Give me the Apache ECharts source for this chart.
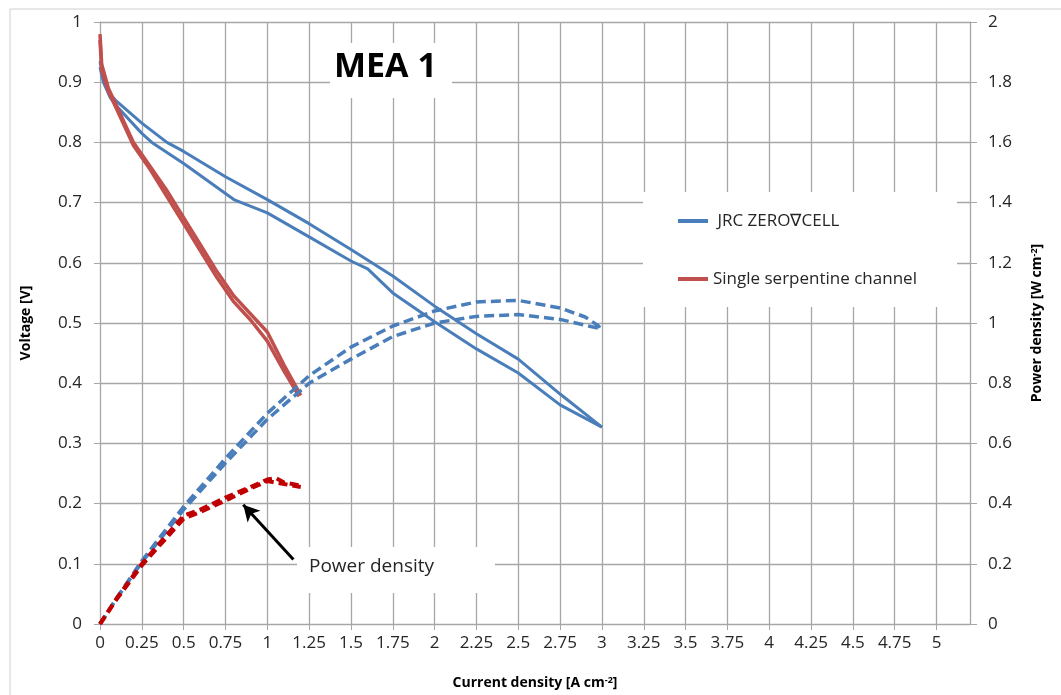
<!DOCTYPE html>
<html>
<head>
<meta charset="utf-8">
<script src="https://cdn.jsdelivr.net/npm/echarts@6/dist/echarts.min.js"></script>
<style>
  html, body { margin: 0; padding: 0; background: #fff; }
  #chart { width: 1061px; height: 695px; }
</style>
</head>
<body>
<div id="chart"></div>
<script>
// axis ranges: [min, max, step]
const xTicks = [0, 5.2, 0.25];
const vTicks = [0, 1, 0.1];
const pTicks = [0, 2, 0.2];

// JRC ZERO∇CELL polarisation (two scans)
const blueX1 = [0, 0.02, 0.06, 0.1, 0.25, 0.4, 0.5, 0.75, 1.0, 1.25, 1.5, 1.75, 2.0, 2.25, 2.5, 2.75, 3.0];
const blueV1 = [0.935, 0.905, 0.88, 0.868, 0.832, 0.80, 0.785, 0.743, 0.705, 0.665, 0.622, 0.578, 0.528, 0.482, 0.44, 0.382, 0.327];
const blueX2 = [0, 0.02, 0.06, 0.1, 0.25, 0.31, 0.5, 0.75, 0.8, 1.0, 1.25, 1.5, 1.6, 1.75, 2.0, 2.25, 2.5, 2.75, 3.0];
const blueV2 = [0.925, 0.9, 0.875, 0.86, 0.815, 0.80, 0.765, 0.715, 0.705, 0.683, 0.643, 0.603, 0.59, 0.55, 0.502, 0.457, 0.417, 0.364, 0.327];

// JRC ZERO∇CELL power density
const bluePX1 = [0, 0.1, 0.25, 0.5, 0.75, 1.0, 1.25, 1.5, 1.75, 2.0, 2.25, 2.5, 2.75, 2.9, 2.98, 3.0];
const blueP1 = [0, 0.087, 0.21, 0.39, 0.55, 0.70, 0.825, 0.92, 0.99, 1.04, 1.07, 1.075, 1.05, 1.02, 0.99, 0.975];
const bluePX2 = [0, 0.1, 0.25, 0.5, 0.75, 1.0, 1.25, 1.5, 1.75, 2.0, 2.25, 2.5, 2.75, 2.92, 3.0];
const blueP2 = [0, 0.085, 0.205, 0.38, 0.535, 0.68, 0.80, 0.88, 0.955, 1.0, 1.022, 1.028, 1.012, 0.99, 0.98];

// Single serpentine channel polarisation (two scans)
const redX1 = [0, 0.01, 0.05, 0.1, 0.2, 0.3, 0.4, 0.5, 0.6, 0.7, 0.8, 0.9, 1.0, 1.1, 1.2];
const redV1 = [0.98, 0.93, 0.89, 0.86, 0.80, 0.76, 0.72, 0.675, 0.63, 0.585, 0.545, 0.515, 0.485, 0.43, 0.38];
const redX2 = [0, 0.01, 0.05, 0.1, 0.2, 0.3, 0.4, 0.5, 0.6, 0.7, 0.8, 0.9, 1.0, 1.1, 1.19];
const redV2 = [0.97, 0.92, 0.885, 0.855, 0.795, 0.755, 0.71, 0.665, 0.62, 0.575, 0.535, 0.505, 0.47, 0.42, 0.378];

// Single serpentine channel power density
const redPX1 = [0, 0.1, 0.25, 0.5, 0.6, 0.75, 0.9, 1.0, 1.05, 1.1, 1.2];
const redP1 = [0, 0.085, 0.2, 0.36, 0.38, 0.42, 0.455, 0.48, 0.485, 0.47, 0.46];
const redPX2 = [0, 0.1, 0.25, 0.5, 0.6, 0.75, 0.9, 1.0, 1.1, 1.2];
const redP2 = [0, 0.083, 0.195, 0.35, 0.372, 0.41, 0.45, 0.475, 0.465, 0.455];

// annotation arrow (current density, voltage)
const arrowFrom = [1.156, 0.107];
const arrowTo = [0.856, 0.198];

const blueName = 'JRC ZERO∇CELL';
const redName = 'Single serpentine channel';

const zip = (xs, ys) => xs.map((x, i) => [x, ys[i]]);

const FONT = 'Open Sans';
const gridGray = '#a6a6a6';

const chart = echarts.init(document.getElementById('chart'));

const lineBase = {
    type: 'line',
    showSymbol: false,
    smooth: false,
    silent: true
};

const option = {
    animation: false,
    backgroundColor: '#fff',
    grid: {left: 100, right: 91, top: 22, bottom: 67},
    legend: {
        data: [blueName, redName],
        orient: 'vertical',
        left: 678,
        top: 210,
        padding: 0,
        itemGap: 36,
        itemWidth: 30,
        itemHeight: 4,
        icon: 'rect',
        z: 6,
        formatter: name => name === blueName ? ' ' + name : name,
        textStyle: {fontFamily: FONT, fontSize: 17, color: '#262626', lineHeight: 22}
    },
    xAxis: {
        type: 'value',
        min: xTicks[0], max: xTicks[1], interval: xTicks[2],
        name: 'Current density [A cm{sup|-2}]',
        nameLocation: 'middle',
        nameGap: 52,
        nameTextStyle: {
            fontFamily: FONT, fontSize: 14, fontWeight: 'bold', color: '#000',
            rich: {sup: {fontFamily: FONT, fontSize: 9, fontWeight: 'bold', verticalAlign: 'top', color: '#000'}}
        },
        axisLine: {lineStyle: {color: gridGray}},
        axisTick: {show: true, length: 6, lineStyle: {color: gridGray}},
        axisLabel: {fontFamily: FONT, fontSize: 17, color: '#262626', margin: 11, showMaxLabel: false},
        splitLine: {show: true, lineStyle: {color: gridGray, width: 1.3}}
    },
    yAxis: [{
        type: 'value',
        min: vTicks[0], max: vTicks[1], interval: vTicks[2],
        name: 'Voltage [V]',
        nameLocation: 'middle',
        nameGap: 67,
        nameTextStyle: {fontFamily: FONT, fontSize: 14, fontWeight: 'bold', color: '#000'},
        axisLine: {show: true, lineStyle: {color: gridGray}},
        axisTick: {show: true, length: 6, lineStyle: {color: gridGray}},
        axisLabel: {fontFamily: FONT, fontSize: 17, color: '#262626', margin: 18},
        splitLine: {show: true, lineStyle: {color: gridGray, width: 1.3}}
    }, {
        type: 'value',
        position: 'right',
        min: pTicks[0], max: pTicks[1], interval: pTicks[2],
        name: 'Power density [W cm{sup|-2}]',
        nameLocation: 'middle',
        nameGap: 60,
        nameRotate: 90,
        nameTextStyle: {
            fontFamily: FONT, fontSize: 14, fontWeight: 'bold', color: '#000',
            rich: {sup: {fontFamily: FONT, fontSize: 9, fontWeight: 'bold', verticalAlign: 'top', color: '#000'}}
        },
        axisLine: {show: true, lineStyle: {color: gridGray}},
        axisTick: {show: true, length: 7, lineStyle: {color: gridGray}},
        axisLabel: {fontFamily: FONT, fontSize: 17, color: '#262626', margin: 18},
        splitLine: {show: false}
    }],
    series: [
        Object.assign({}, lineBase, {
            name: blueName, yAxisIndex: 0, data: zip(blueX1, blueV1),
            itemStyle: {color: '#4a7ebb'}, lineStyle: {color: '#4a7ebb', width: 3},
            markLine: {
                silent: true,
                symbol: ['none', 'arrow'],
                symbolSize: [13, 16],
                label: {show: false},
                lineStyle: {color: '#000', width: 3, type: 'solid'},
                data: [[{coord: arrowFrom}, {coord: arrowTo}]]
            }
        }),
        Object.assign({}, lineBase, {
            name: blueName, yAxisIndex: 0, data: zip(blueX2, blueV2),
            itemStyle: {color: '#4a7ebb'}, lineStyle: {color: '#4a7ebb', width: 3}
        }),
        Object.assign({}, lineBase, {
            name: redName, yAxisIndex: 0, data: zip(redX1, redV1),
            itemStyle: {color: '#c0504d'}, lineStyle: {color: '#c0504d', width: 3.5}
        }),
        Object.assign({}, lineBase, {
            name: redName, yAxisIndex: 0, data: zip(redX2, redV2),
            itemStyle: {color: '#c0504d'}, lineStyle: {color: '#c0504d', width: 3.5}
        }),
        Object.assign({}, lineBase, {
            name: blueName, yAxisIndex: 1, data: zip(bluePX1, blueP1),
            itemStyle: {color: '#4a7ebb'}, lineStyle: {color: '#4a7ebb', width: 3.5, type: [10, 5]}
        }),
        Object.assign({}, lineBase, {
            name: blueName, yAxisIndex: 1, data: zip(bluePX2, blueP2),
            itemStyle: {color: '#4a7ebb'}, lineStyle: {color: '#4a7ebb', width: 3.5, type: [10, 5]}
        }),
        Object.assign({}, lineBase, {
            name: redName, yAxisIndex: 1, data: zip(redPX1, redP1),
            itemStyle: {color: '#c00000'}, lineStyle: {color: '#c00000', width: 4, type: [9, 5]}
        }),
        Object.assign({}, lineBase, {
            name: redName, yAxisIndex: 1, data: zip(redPX2, redP2),
            itemStyle: {color: '#c00000'}, lineStyle: {color: '#c00000', width: 4, type: [9, 5]}
        })
    ],
    graphic: [
        // outer chart frame
        {type: 'rect', z: 0, silent: true, shape: {x: 10, y: 9, width: 1070, height: 720},
            style: {fill: 'none', stroke: '#d0d0d0', lineWidth: 1}},
        // white boxes behind title, legend and annotation
        {type: 'rect', z: 1, silent: true, shape: {x: 330, y: 43, width: 122, height: 55}, style: {fill: '#fff'}},
        {type: 'rect', z: 1, silent: true, shape: {x: 643, y: 192, width: 314, height: 115}, style: {fill: '#fff'}},
        {type: 'rect', z: 1, silent: true, shape: {x: 297, y: 547, width: 198, height: 46}, style: {fill: '#fff'}},
        {type: 'text', z: 5, silent: true, left: 334, top: 50,
            style: {text: 'MEA 1', fontFamily: FONT, fontSize: 34, fontWeight: 'bold', fill: '#000'}},
        {type: 'text', z: 5, silent: true, left: 309, top: 557,
            style: {text: 'Power density', fontFamily: FONT, fontSize: 19, fill: '#262626'}}
    ]
};

chart.setOption(option);
</script>
</body>
</html>
